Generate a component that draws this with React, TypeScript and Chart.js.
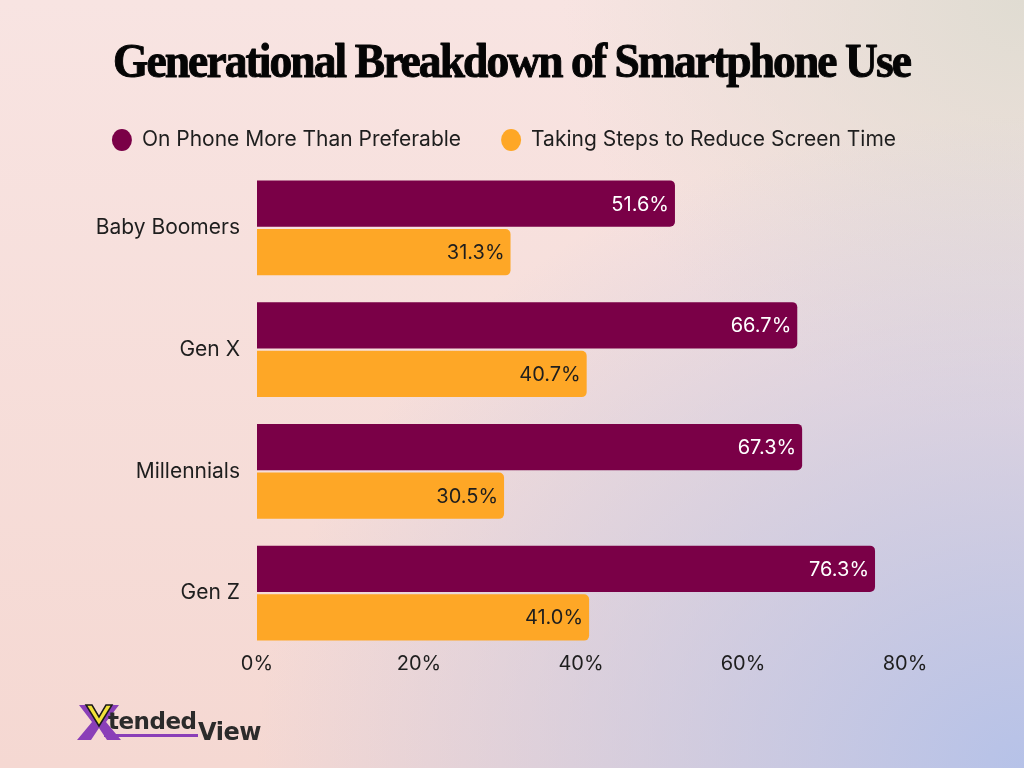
import React, { useEffect, useRef } from "react";
import { Chart, registerables } from "chart.js";

Chart.register(...registerables);

const TITLE = "Generational Breakdown of Smartphone Use";
const categories = ["Baby Boomers", "Gen X", "Millennials", "Gen Z"];
const seriesNames = ["On Phone More Than Preferable", "Taking Steps to Reduce Screen Time"];
const onPhoneMore = [51.6, 66.7, 67.3, 76.3];
const reducingScreenTime = [31.3, 40.7, 30.5, 41.0];
const xTickValues = [0, 20, 40, 60, 80];

const PURPLE = "#7a0047";
const ORANGE = "#fea726";
const INK = "#1e1e1e";
const FONT = "Inter, 'Noto Sans', sans-serif";

const titlePlugin = {
  id: "titleText",
  afterDraw(chart: any) {
    const ctx = chart.ctx as CanvasRenderingContext2D;
    ctx.save();
    ctx.font = "bold 48px 'Liberation Serif', serif";
    (ctx as any).letterSpacing = "-2px";
    ctx.fillStyle = "#050505";
    ctx.strokeStyle = "#050505";
    ctx.lineWidth = 1;
    ctx.lineJoin = "round";
    ctx.textBaseline = "alphabetic";
    ctx.textAlign = "left";
    const w = ctx.measureText(TITLE).width;
    const target = 797;
    const sx = target / w;
    ctx.translate(113, 77);
    ctx.scale(sx, 1);
    ctx.fillText(TITLE, 0, 0);
    ctx.strokeText(TITLE, 0, 0);
    ctx.restore();
  },
};

const legendPlugin = {
  id: "dotLegend",
  afterDraw(chart: any) {
    const ctx = chart.ctx as CanvasRenderingContext2D;
    ctx.save();
    ctx.font = `21px ${FONT}`;
    ctx.textBaseline = "middle";
    ctx.textAlign = "left";
    const ds = chart.data.datasets;
    const widths = ds.map((d: any) => ctx.measureText(d.label).width);
    const r = 10;
    const gapText = 10;
    const gapItem = 40;
    const total = widths.reduce((a: number, w: number) => a + 2 * r + gapText + w, 0) + gapItem * (ds.length - 1);
    let x = 504 - total / 2;
    const y = 140;
    ds.forEach((d: any, i: number) => {
      ctx.fillStyle = d.backgroundColor;
      ctx.beginPath();
      ctx.ellipse(x + r, y, r, r + 1, 0, 0, Math.PI * 2);
      ctx.fill();
      ctx.fillStyle = INK;
      ctx.fillText(d.label, x + 2 * r + gapText, y);
      x += 2 * r + gapText + widths[i] + gapItem;
    });
    ctx.restore();
  },
};

const valueLabelPlugin = {
  id: "valueLabels",
  afterDatasetsDraw(chart: any) {
    const ctx = chart.ctx as CanvasRenderingContext2D;
    ctx.save();
    ctx.font = `20px ${FONT}`;
    ctx.textBaseline = "middle";
    ctx.textAlign = "right";
    chart.data.datasets.forEach((d: any, di: number) => {
      const meta = chart.getDatasetMeta(di);
      meta.data.forEach((bar: any, i: number) => {
        ctx.fillStyle = di === 0 ? "#ffffff" : INK;
        ctx.fillText(`${Number(d.data[i]).toFixed(1)}%`, bar.x - 6, bar.y + 1);
      });
    });
    ctx.restore();
  },
};

const logoPlugin = {
  id: "brandMark",
  afterDraw(chart: any) {
    const ctx = chart.ctx as CanvasRenderingContext2D;
    ctx.save();
    // purple X
    ctx.lineJoin = "miter";
    ctx.fillStyle = "#8a3fb8";
    ctx.beginPath();
    ctx.moveTo(79, 705);
    ctx.lineTo(92, 705);
    ctx.lineTo(99, 716);
    ctx.lineTo(106, 705);
    ctx.lineTo(119, 705);
    ctx.lineTo(106, 722);
    ctx.lineTo(121, 740);
    ctx.lineTo(107, 740);
    ctx.lineTo(99, 728);
    ctx.lineTo(91, 740);
    ctx.lineTo(77, 740);
    ctx.lineTo(92, 722);
    ctx.closePath();
    ctx.fill();
    // yellow V
    ctx.fillStyle = "#f2e23a";
    ctx.strokeStyle = "#1a1a1a";
    ctx.lineWidth = 1.5;
    ctx.beginPath();
    ctx.moveTo(86, 705);
    ctx.lineTo(92, 705);
    ctx.lineTo(99, 717);
    ctx.lineTo(106, 705);
    ctx.lineTo(112, 705);
    ctx.lineTo(99, 726);
    ctx.closePath();
    ctx.fill();
    ctx.stroke();
    // underline
    ctx.fillStyle = "#8a3fb8";
    ctx.fillRect(104, 734, 94, 3);
    // wordmark
    ctx.fillStyle = "#2b2b2b";
    ctx.font = "bold 23px 'DejaVu Sans', sans-serif";
    ctx.textBaseline = "alphabetic";
    ctx.textAlign = "left";
    (ctx as any).letterSpacing = "-0.5px";
    ctx.fillText("tended", 108, 729);
    ctx.font = "bold 24px 'DejaVu Sans', sans-serif";
    ctx.fillText("View", 198, 740);
    ctx.restore();
  },
};

export default function App() {
  const canvasRef = useRef<HTMLCanvasElement | null>(null);

  useEffect(() => {
    if (!canvasRef.current) return;
    const chart = new Chart(canvasRef.current, {
      type: "bar",
      data: {
        labels: categories,
        datasets: [
          {
            label: seriesNames[0],
            data: onPhoneMore,
            backgroundColor: PURPLE,
            borderRadius: 5,
            categoryPercentage: 0.8,
            barPercentage: 0.95,
          },
          {
            label: seriesNames[1],
            data: reducingScreenTime,
            backgroundColor: ORANGE,
            borderRadius: 5,
            categoryPercentage: 0.8,
            barPercentage: 0.95,
          },
        ],
      },
      options: {
        indexAxis: "y",
        responsive: false,
        animation: false,
        layout: { padding: { top: 167, right: 119, bottom: 74, left: 0 } },
        plugins: {
          legend: { display: false },
          title: { display: false },
          tooltip: { enabled: false },
        },
        scales: {
          x: {
            min: 0,
            max: 80,
            afterBuildTicks(scale: any) {
              scale.ticks = xTickValues.map((v) => ({ value: v }));
            },
            afterFit(scale: any) {
              scale.height = 40;
            },
            grid: { display: false, drawTicks: false },
            border: { display: false },
            ticks: {
              padding: -2,
              color: INK,
              font: { family: FONT, size: 20 },
              callback: (v: any) => `${v}%`,
            },
          },
          y: {
            afterFit(scale: any) {
              scale.width = 257;
            },
            grid: { display: false, drawTicks: false },
            border: { display: false },
            ticks: {
              padding: 17,
              color: INK,
              font: { family: FONT, size: 21 },
            },
          },
        },
      },
      plugins: [titlePlugin, legendPlugin, valueLabelPlugin, logoPlugin],
    });
    return () => chart.destroy();
  }, []);

  return (
    <div
      style={{
        position: "fixed",
        left: 0,
        top: 0,
        width: 1024,
        height: 768,
        background:
          "radial-gradient(ellipse 75% 85% at 100% 100%, #b6c2e8 0%, rgba(182,194,232,0.6) 40%, rgba(182,194,232,0) 100%)," +
          "radial-gradient(ellipse 45% 55% at 100% 0%, #e0dcd2 0%, rgba(224,220,210,0) 100%)," +
          "linear-gradient(180deg, #f8e4e2 0%, #f5d8d2 100%)",
      }}
    >
      <canvas ref={canvasRef} width={1024} height={768} />
    </div>
  );
}
